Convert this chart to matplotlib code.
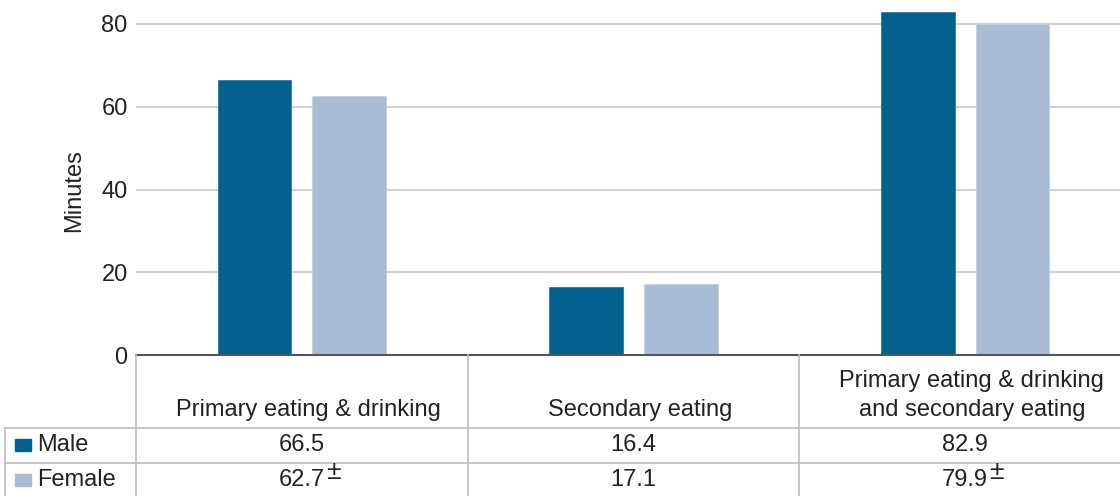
import numpy as np
import matplotlib
matplotlib.use("Agg")
import matplotlib.pyplot as plt
from matplotlib.transforms import blended_transform_factory

# Data
categories = ["Primary eating & drinking", "Secondary eating",
              "Primary eating & drinking\nand secondary eating"]
series = ["Male", "Female"]
male = [66.5, 16.4, 82.9]
female = [62.7, 17.1, 79.9]
female_flag = [True, False, True]  # ± marker after value
colors = ["#03608F", "#A9BCD6"]

plt.rcParams["font.family"] = ["Liberation Sans", "DejaVu Sans"]
text_color = "#222222"
line_color = "#BDBDBD"
fs = 17

W, H = 1120, 496
fig = plt.figure(figsize=(W / 100, H / 100), dpi=100)

# Chart axes: left edge at x=136px, zero line at y=355px; plot area runs a bit past the right edge
ax_w = (1131 - 136) / W
ax = fig.add_axes([136 / W, (H - 355) / H, ax_w, 355 / H])
x = np.arange(len(categories))
bw = 0.222
off = 0.143
ax.bar(x - off, male, bw, color=colors[0], edgecolor="#2A7AA6", linewidth=0.6, zorder=3)
ax.bar(x + off, female, bw, color=colors[1], edgecolor="#C3D1E4", linewidth=0.6, zorder=3)
ax.set_xlim(-0.5, len(categories) - 0.5)
ax.set_ylim(0, 355 / 4.1375)
ax.set_yticks([0, 20, 40, 60, 80])
ax.yaxis.grid(True, color="#C8C8C8", linewidth=1.2, zorder=0)
ax.set_xticks([])
ax.tick_params(axis="y", length=0, pad=6, labelsize=fs, labelcolor=text_color)
for s in ["top", "right", "left"]:
    ax.spines[s].set_visible(False)
ax.spines["bottom"].set_color("#555555")
ax.spines["bottom"].set_linewidth(1.5)
ax.spines["bottom"].set_zorder(4)
ax.set_ylabel("Minutes", fontsize=fs, color=text_color)
ax.yaxis.set_label_coords((85 - 136) / (ax_w * W), (355 - 191) / 355)

# Table axes below, y in pixels measured from the zero line downwards
tab = fig.add_axes([136 / W, 0, ax_w, (H - 355) / H])
tab.set_xlim(-0.5, len(categories) - 0.5)
tab.set_ylim(H - 355, 0)
tab.axis("off")

# grid lines of the table
for b in np.arange(len(categories)) - 0.5:
    tab.plot([b, b], [0, H - 355], color=line_color, lw=1.2, clip_on=False)
fig_tr = blended_transform_factory(fig.transFigure, tab.transData)
for yy in [73, 108]:
    tab.plot([5 / W, 1], [yy, yy], color=line_color, lw=1.2, transform=fig_tr, clip_on=False)
tab.plot([5 / W, 5 / W], [73, H - 355], color=line_color, lw=1.2, transform=fig_tr, clip_on=False)

# header row
for i, c in enumerate(categories):
    tab.text(i + 0.02, 66, c, ha="center", va="bottom", fontsize=fs, color=text_color,
             linespacing=1.4)

# value rows
row_y = [90, 125]
for r, (name, vals) in enumerate(zip(series, [male, female])):
    tab.add_patch(plt.Rectangle((15 / W, row_y[r] + 6), 16 / W, -12,
                                transform=fig_tr, color=colors[r], clip_on=False))
    tab.text(37 / W, row_y[r], name, transform=fig_tr, ha="left", va="center",
             fontsize=fs, color=text_color)
    for i, v in enumerate(vals):
        t = tab.text(i, row_y[r], f"{v:.1f}", ha="center", va="center",
                     fontsize=fs, color=text_color)
        if r == 1 and female_flag[i]:
            tab.annotate("±", xy=(1, 1), xycoords=t, xytext=(1, -2),
                         textcoords="offset points", ha="left", va="center",
                         fontsize=19, color=text_color)

fig.savefig("out.png", dpi=100)
